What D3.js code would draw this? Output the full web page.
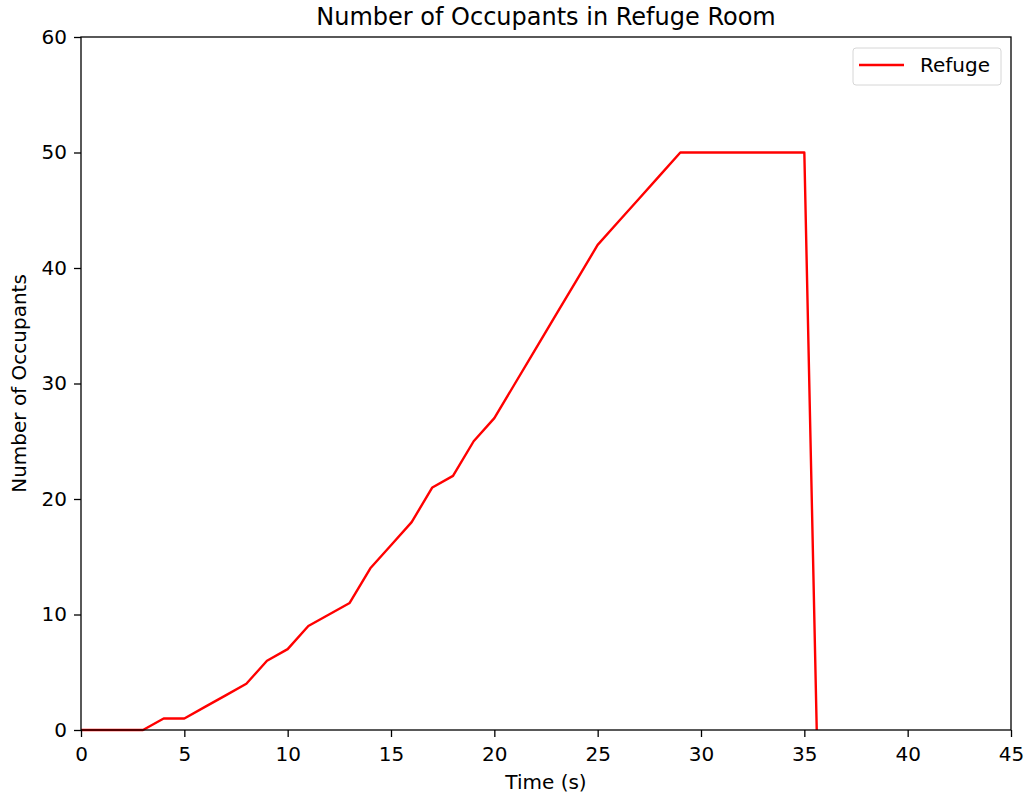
<!DOCTYPE html>
<html><head><meta charset="utf-8">
<script src="https://cdn.jsdelivr.net/npm/d3@7"></script>
<style>body{margin:0;background:#fff}svg{display:block}text{font-family:"DejaVu Sans",sans-serif;fill:#000}</style>
</head><body><svg id="c" width="1024" height="798"></svg>
<script>
const times = [0,1,2,3,4,5,6,7,8,9,10,11,12,13,14,15,16,17,18,19,20,21,22,23,24,25,26,27,28,29,30,31,32,33,34,35,35.6];
const occupants = [0,0,0,0,1,1,2,3,4,6,7,9,10,11,14,16,18,21,22,25,27,30,33,36,39,42,44,46,48,50,50,50,50,50,50,50,0];
const xTicks = [0,5,10,15,20,25,30,35,40,45];
const yTicks = [0,10,20,30,40,50,60];
const seriesName = "Refuge";

const svg = d3.select("#c");
const m = {l:81, r:1011, t:37, b:730};
const x = d3.scaleLinear().domain([0,45]).range([m.l, m.r]);
const y = d3.scaleLinear().domain([0,60]).range([m.b, m.t]);

const line = d3.line().x((d,i)=>x(times[i])).y(d=>y(d));
svg.append("path").datum(occupants).attr("d", line).attr("fill","none").attr("stroke","#ff0000").attr("stroke-width",2.4).attr("stroke-linejoin","round");

const xa = svg.append("g").attr("transform",`translate(0,${m.b})`).call(d3.axisBottom(x).tickValues(xTicks).tickSize(7).tickPadding(10).tickFormat(d3.format("d")));
const ya = svg.append("g").attr("transform",`translate(${m.l},0)`).call(d3.axisLeft(y).tickValues(yTicks).tickSize(7).tickPadding(7).tickFormat(d3.format("d")));
[xa,ya].forEach(a=>{a.select(".domain").remove();a.selectAll("text").attr("font-size",20).attr("font-family","DejaVu Sans").attr("fill","#1a1a1a");a.selectAll("line").attr("stroke","#000").attr("stroke-width",1.3);});

svg.append("rect").attr("x",m.l).attr("y",m.t).attr("width",m.r-m.l).attr("height",m.b-m.t).attr("fill","none").attr("stroke","#000").attr("stroke-width",1.3);

svg.append("text").attr("x",(m.l+m.r)/2).attr("y",25).attr("text-anchor","middle").attr("font-size",24).attr("fill","#1a1a1a").text("Number of Occupants in Refuge Room");
svg.append("text").attr("x",(m.l+m.r)/2).attr("y",789).attr("text-anchor","middle").attr("font-size",20).attr("fill","#1a1a1a").text("Time (s)");
svg.append("text").attr("transform",`translate(26,${(m.t+m.b)/2}) rotate(-90)`).attr("text-anchor","middle").attr("font-size",20).attr("fill","#1a1a1a").text("Number of Occupants");

const lg = svg.append("g");
lg.append("rect").attr("x",853).attr("y",48).attr("width",148).attr("height",37).attr("rx",3).attr("fill","#fff").attr("stroke","#d6d6d6").attr("stroke-width",1);
lg.append("line").attr("x1",859).attr("x2",904).attr("y1",65).attr("y2",65).attr("stroke","#ff0000").attr("stroke-width",2.4);
lg.append("text").attr("x",920).attr("y",72).attr("font-size",20).attr("fill","#1a1a1a").text(seriesName);
</script></body></html>
